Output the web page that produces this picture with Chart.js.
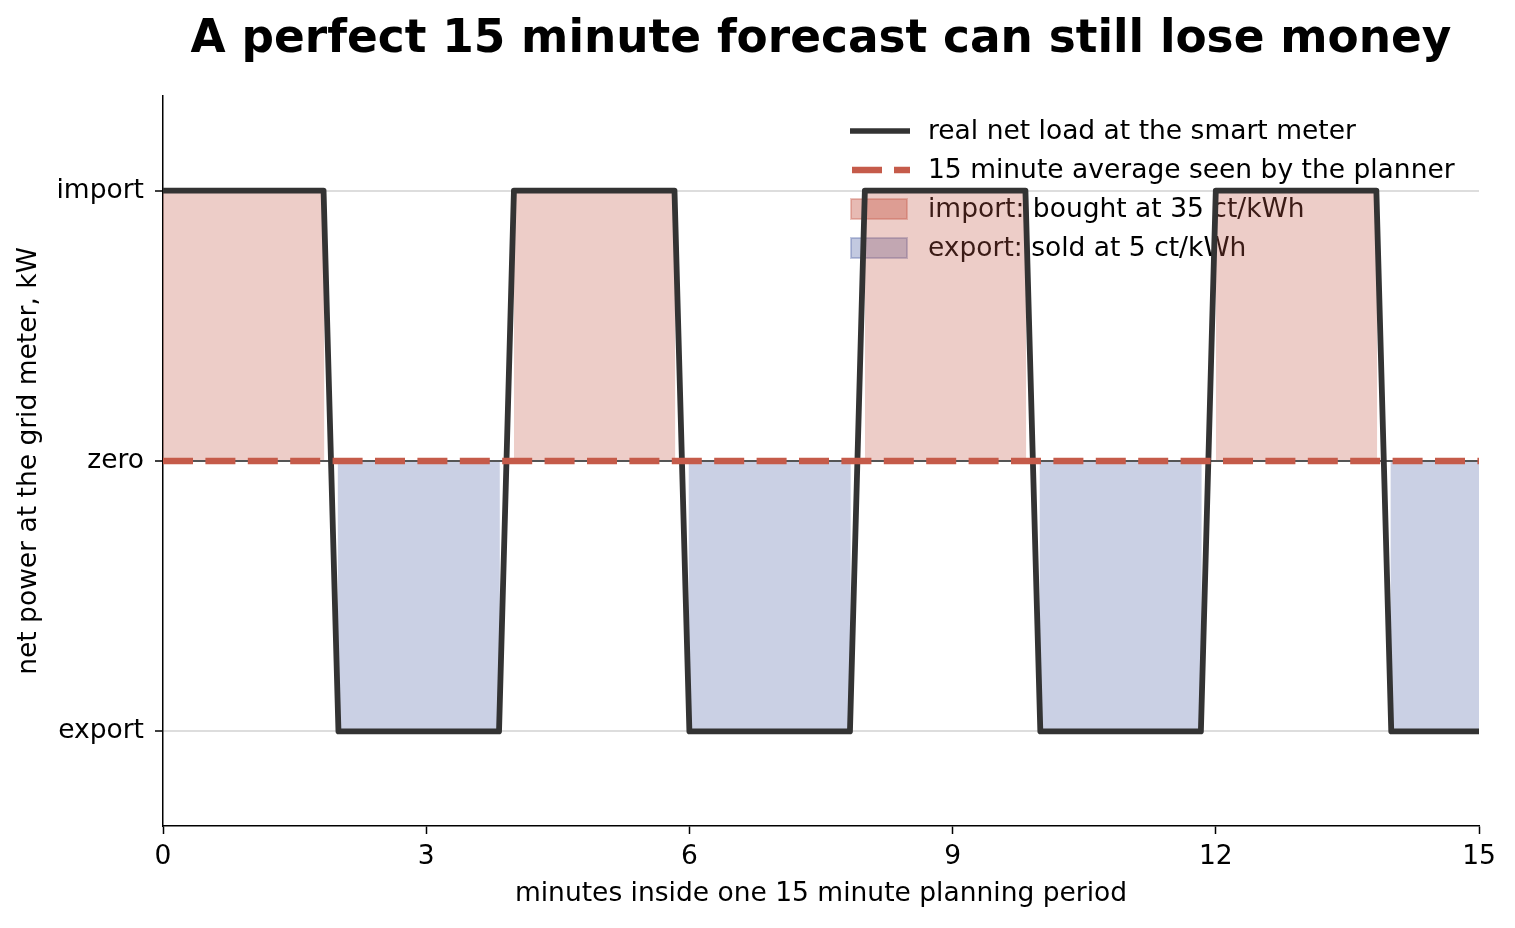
<!DOCTYPE html>
<html>
<head>
<meta charset="utf-8">
<script src="https://cdn.jsdelivr.net/npm/chart.js@4.4.1/dist/chart.umd.min.js"></script>
<style>
  html, body { margin: 0; padding: 0; background: #ffffff; }
  #wrap { width: 1515px; height: 928px; }
</style>
</head>
<body>
<div id="wrap"><canvas id="c" width="1515" height="928"></canvas></div>
<script>
// ---- data ----
const lineX = [0, 1.83, 2.0, 3.83, 4.0, 5.83, 6.0, 7.83, 8.0, 9.83, 10.0, 11.83, 12.0, 13.83, 14.0, 15];
const lineY = [1, 1, -1, -1, 1, 1, -1, -1, 1, 1, -1, -1, 1, 1, -1, -1];
const avgX = [0, 15];
const avgY = [0, 0];
const importStart = [0, 4.0, 8.0, 12.0];
const importEnd = [1.84, 5.84, 9.84, 13.84];
const importLevel = [1, 1, 1, 1];
const exportStart = [1.99, 5.99, 9.99, 13.99];
const exportEnd = [3.84, 7.84, 11.84, 15];
const exportLevel = [-1, -1, -1, -1];
const yTickValues = [-1, 0, 1];
const yTickLabels = ['export', 'zero', 'import'];
const xTickStep = 3;
const seriesLabels = [
  'real net load at the smart meter',
  '15 minute average seen by the planner',
  'import: bought at 35 ct/kWh',
  'export: sold at 5 ct/kWh'
];
const titleText = 'A perfect 15 minute forecast can still lose money';
const xTitle = 'minutes inside one 15 minute planning period';
const yTitle = 'net power at the grid meter, kW';

// ---- build ----
const pts = (xs, ys) => xs.map((x, i) => ({x: x, y: ys[i]}));
function segs(starts, ends, levels) {
  const out = [];
  starts.forEach((s, i) => {
    if (i > 0) out.push({x: (ends[i - 1] + s) / 2, y: null});
    out.push({x: s, y: levels[i]});
    out.push({x: ends[i], y: levels[i]});
  });
  return out;
}

const RED = '#c55b4a';
const FONT = "'DejaVu Sans', sans-serif";
const FS = 26.5;

const legendPlugin = {
  id: 'customLegend',
  beforeDatasetsDraw(chart) {
    const ctx = chart.ctx;
    const x0 = 850, x1 = 910, tx = 928;
    const rows = [131, 170, 209, 248];
    ctx.save();
    ctx.lineCap = 'butt';
    ctx.strokeStyle = '#333333'; ctx.lineWidth = 5.5; ctx.setLineDash([]);
    ctx.beginPath(); ctx.moveTo(x0, rows[0]); ctx.lineTo(x1, rows[0]); ctx.stroke();
    ctx.strokeStyle = RED; ctx.lineWidth = 6.5; ctx.setLineDash([30, 12]);
    ctx.beginPath(); ctx.moveTo(x0 + 2, rows[1]); ctx.lineTo(x1, rows[1]); ctx.stroke();
    ctx.setLineDash([]);
    ctx.lineWidth = 2;
    ctx.fillStyle = 'rgba(197,91,74,0.42)'; ctx.strokeStyle = 'rgba(197,91,74,0.35)';
    ctx.fillRect(x0 + 1, rows[2] - 10, 56, 20); ctx.strokeRect(x0 + 1, rows[2] - 10, 56, 20);
    ctx.fillStyle = 'rgba(80,100,165,0.35)'; ctx.strokeStyle = 'rgba(80,100,165,0.35)';
    ctx.fillRect(x0 + 1, rows[3] - 10, 56, 20); ctx.strokeRect(x0 + 1, rows[3] - 10, 56, 20);
    ctx.fillStyle = '#000';
    ctx.font = FS + 'px ' + FONT;
    ctx.textBaseline = 'middle';
    ctx.textAlign = 'left';
    seriesLabels.forEach((t, i) => ctx.fillText(t, tx, rows[i] + 1));
    ctx.restore();
  }
};

new Chart(document.getElementById('c'), {
  type: 'line',
  data: {
    datasets: [
      { label: seriesLabels[1], data: pts(avgX, avgY), borderColor: RED, borderWidth: 6.5,
        borderDash: [30, 12.4], pointRadius: 0, fill: false, tension: 0, borderCapStyle: 'butt' },
      { label: seriesLabels[0], data: pts(lineX, lineY), borderColor: '#333333', borderWidth: 5.8,
        pointRadius: 0, fill: false, tension: 0, borderJoinStyle: 'round', borderCapStyle: 'butt' },
      { label: 'zero', data: pts(avgX, avgY), borderColor: '#555555', borderWidth: 2,
        pointRadius: 0, fill: false },
      { label: seriesLabels[2], data: segs(importStart, importEnd, importLevel), borderColor: 'rgba(197,91,74,0.25)',
        borderWidth: 1, backgroundColor: 'rgba(197,91,74,0.3)', pointRadius: 0, fill: 'origin', spanGaps: false },
      { label: seriesLabels[3], data: segs(exportStart, exportEnd, exportLevel), borderColor: 'rgba(80,100,165,0.25)',
        borderWidth: 1, backgroundColor: 'rgba(80,100,165,0.3)', pointRadius: 0, fill: 'origin', spanGaps: false }
    ]
  },
  options: {
    responsive: false,
    animation: false,
    devicePixelRatio: 1,
    layout: { padding: { top: 0, right: 36, left: 0, bottom: 0 } },
    plugins: {
      legend: { display: false },
      tooltip: { enabled: false },
      title: {
        display: true, text: titleText, fullSize: false, color: '#000',
        font: { family: FONT, size: 45.4, weight: 'bold' },
        padding: { top: 13, bottom: 28.5 }
      }
    },
    scales: {
      x: {
        type: 'linear', min: 0, max: 15,
        afterFit(s) { s.height = 102; },
        ticks: { stepSize: xTickStep, color: '#000', font: { family: FONT, size: FS }, padding: 7, maxRotation: 0 },
        grid: { drawOnChartArea: false, drawTicks: true, tickLength: 8, tickColor: '#000', tickWidth: 1.5 },
        border: { display: true, color: '#000', width: 1.5 },
        title: { display: true, text: xTitle, color: '#000', font: { family: FONT, size: FS }, padding: { top: 0, bottom: 18 } }
      },
      y: {
        type: 'linear', min: -1.35, max: 1.35,
        afterFit(s) { s.width = 163; },
        afterBuildTicks(s) { s.ticks = yTickValues.map(v => ({value: v})); },
        ticks: { color: '#000', font: { family: FONT, size: FS }, padding: 11,
          callback(v) { const i = yTickValues.indexOf(v); return i >= 0 ? yTickLabels[i] : ''; } },
        grid: { color: '#dddddd', lineWidth: 2, drawTicks: true, tickLength: 8, tickColor: '#000', tickWidth: 1.5 },
        border: { display: true, color: '#000', width: 1.5 },
        title: { display: true, text: yTitle, color: '#000', font: { family: FONT, size: FS }, padding: { top: 13, bottom: 0 } }
      }
    }
  },
  plugins: [legendPlugin]
});
</script>
</body>
</html>
